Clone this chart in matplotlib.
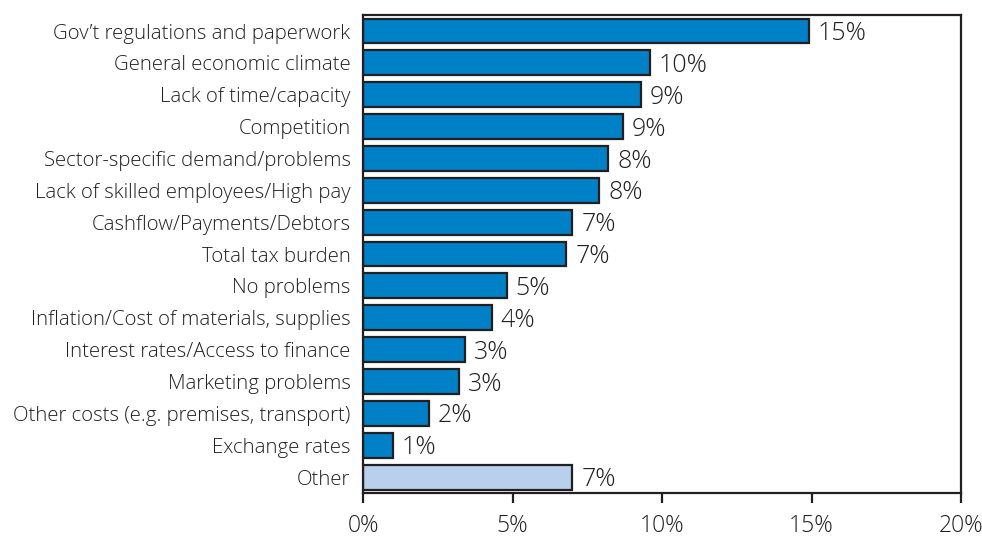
import matplotlib
matplotlib.use("Agg")
import matplotlib.pyplot as plt
from matplotlib.ticker import FuncFormatter

plt.rcParams["font.family"] = ["Open Sans", "DejaVu Sans"]
plt.rcParams["font.weight"] = "light"

# Share of firms naming each issue as their main problem (%)
categories = [
    "Gov’t regulations and paperwork",
    "General economic climate",
    "Lack of time/capacity",
    "Competition",
    "Sector-specific demand/problems",
    "Lack of skilled employees/High pay",
    "Cashflow/Payments/Debtors",
    "Total tax burden",
    "No problems",
    "Inflation/Cost of materials, supplies",
    "Interest rates/Access to finance",
    "Marketing problems",
    "Other costs (e.g. premises, transport)",
    "Exchange rates",
    "Other",
]
shares = [14.9, 9.6, 9.3, 8.7, 8.2, 7.9, 7.0, 6.8, 4.8, 4.3, 3.4, 3.2, 2.2, 1.0, 7.0]
x_ticks = [0, 5, 10, 15, 20]

BLUE = "#0080c6"
LIGHT = "#b9d0ec"
EDGE = "#231f20"

fig = plt.figure(figsize=(9.82, 5.39), dpi=100)
ax = fig.add_axes([0.3697, 0.0853, 0.6089, 0.8867])

colors = [BLUE] * (len(categories) - 1) + [LIGHT]
ypos = list(range(len(categories)))
ax.barh(ypos, shares, height=0.78, color=colors, edgecolor=EDGE, linewidth=1.6)

for y, v in zip(ypos, shares):
    ax.text(v + 0.3, y + 0.08, f"{v:.0f}%", va="center", ha="left",
            fontsize=18, color="#231f20")

ax.set_ylim(len(categories) - 0.5, -0.5)
ax.set_xlim(0, 20)
ax.set_yticks(ypos)
ax.set_yticklabels(categories, fontsize=14.7, color="#231f20")
ax.tick_params(axis="y", length=0, pad=9)

ax.set_xticks(x_ticks)
ax.xaxis.set_major_formatter(FuncFormatter(lambda v, _: f"{v:.0f}%"))
ax.tick_params(axis="x", direction="out", length=7, width=1.6,
               labelsize=16.5, pad=8, colors="#231f20")

for s in ax.spines.values():
    s.set_linewidth(1.6)
    s.set_color(EDGE)

fig.savefig("out.png", dpi=100)
